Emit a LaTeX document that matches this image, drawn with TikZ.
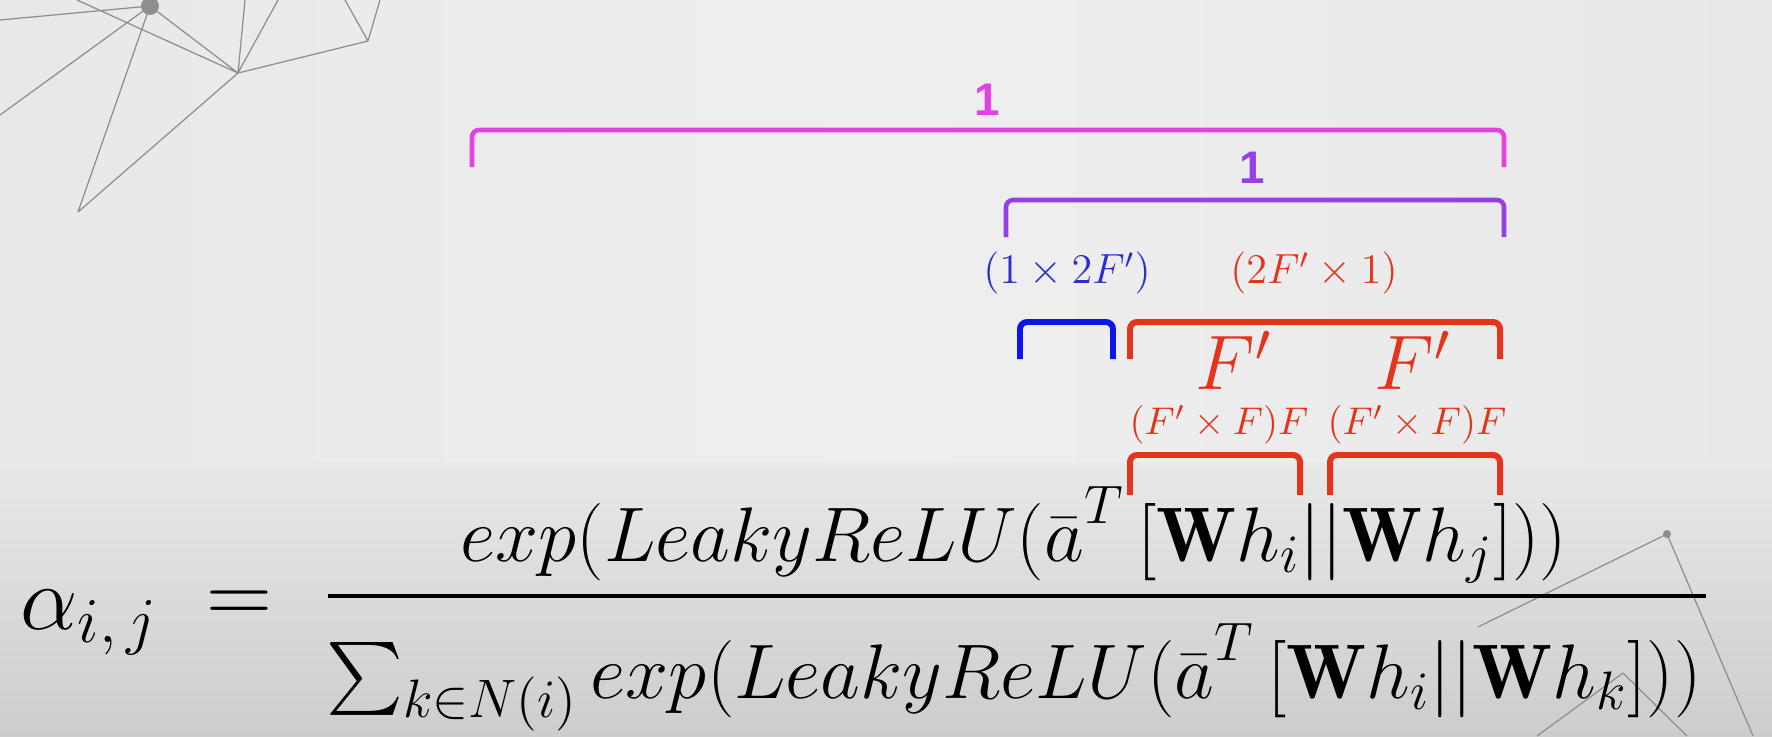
\RequirePackage{fix-cm}
\documentclass[tikz,border=0pt]{standalone}
\usepackage{amsmath}
\usepackage{fontspec}
\setsansfont{Liberation Sans}
\usetikzlibrary{positioning}

\definecolor{fondo}{HTML}{E8E8E8}
\definecolor{fondoclaro}{HTML}{EFEFEF}
\definecolor{fondoosc}{HTML}{CDCDCD}
\definecolor{grismalla}{HTML}{8E8E8E}
\definecolor{magenta1}{RGB}{226,66,226}
\definecolor{morado1}{RGB}{150,62,232}
\definecolor{azul1}{RGB}{12,22,235}
\definecolor{azultxt}{RGB}{45,45,205}
\definecolor{rojo1}{RGB}{228,52,30}

% vector a transpuesto
\newcommand{\vecaT}{\bar{a}^{\raisebox{2.8pt}{$\scriptstyle T$}}}

\begin{document}
\begin{tikzpicture}[x=0.01cm, y=-0.01cm,
                  malla/.style={draw=grismalla, line width=0.35pt},
                  llave/.style={line width=1.3pt, rounded corners=2pt},
                  llavegruesa/.style={line width=1.7pt, rounded corners=2pt},
                  lado/.style={inner sep=0pt, font=\fontsize{26}{30}\selectfont},
                  ecuacion/.style={inner sep=0pt, font=\fontsize{22}{26}\selectfont},
                  uno/.style={inner sep=0pt, font=\fontsize{13}{15}\selectfont\sffamily\bfseries},
                  dim/.style={inner sep=0pt, font=\fontsize{12}{14}\selectfont},
                  dimchica/.style={inner sep=0pt, font=\fontsize{11}{13}\selectfont}]

                  % Fondo de la diapositiva.
                  \useasboundingbox (0,0) rectangle (1772,736);
                  \shade[left color=fondo, right color=fondo, middle color=fondoclaro]
                  (0,0) rectangle (1772,736);
                  \shade[top color=fondo, bottom color=fondoosc] (0,463) rectangle (1772,736);

                  % Malla decorativa de la esquina superior.
                  \coordinate (d) at (150,6);
                  \coordinate (p1) at (238,73);
                  \coordinate (p2) at (78,212);
                  \coordinate (p3) at (368,41);
                  \draw[malla] (0,20) -- (d) (0,115) -- (d) (d) -- (p2) (d) -- (p1)
                  (77,0) -- (p1) (p2) -- (p1) (p1) -- (245,0) (p1) -- (278,0)
                  (p1) -- (p3) (p3) -- (345,0) (p3) -- (380,0);
                  \fill[grismalla] (d) circle (9);

                  % Malla decorativa de la esquina inferior.
                  \coordinate (q) at (1667,534);
                  \coordinate (r) at (1623,673);
                  \draw[malla] (q) -- (1478,627) (q) -- (1753,736)
                  (r) -- (1537,736) (r) -- (1687,736);
                  \fill[grismalla] (q) circle (4);

                  % La ecuacion de atencion.
                  \node[lado, anchor=base west] (alfa) at (20,629) {$\alpha_{i,\,j}$};
                  \node[lado, anchor=base west] (igual) at (206,623) {$=$};
                  \node[ecuacion, anchor=base] (num) at (1014,561)
                  {$exp(LeakyReLU(\vecaT\,[\mathbf{W}h_i||\mathbf{W}h_j]))$};
                  \node[ecuacion, anchor=base] (den) at (1014,698)
                  {$\sum_{k\in N(i)} exp(LeakyReLU(\vecaT\,[\mathbf{W}h_i||\mathbf{W}h_k]))$};
                  \coordinate (barraI) at (328,596);
                  \coordinate (barraD) at (1706,596);
                  \draw[line width=1.3pt] (barraI) -- (barraD);

                  % Llaves de dimensiones.
                  \draw[llave, magenta1] (472,167) -- (472,130) -- (1504,130) -- (1504,167);
                  \node[uno, text=magenta1] (unoA) at (987,100) {1};
                  \draw[llave, morado1] (1006,237) -- (1006,200) -- (1504,200) -- (1504,237);
                  \node[uno, text=morado1] (unoB) at (1252,168) {1};

                  \node[dim, text=azultxt] (dimA) at (1067,273) {$(1\times 2F')$};
                  \node[dim, text=rojo1] (dimB) at (1314,273) {$(2F'\times 1)$};

                  \draw[llavegruesa, azul1] (1020,359) -- (1020,322) -- (1113,322) -- (1113,359);
                  \draw[llavegruesa, rojo1] (1130,359) -- (1130,322) -- (1500,322) -- (1500,359);
                  \node[ecuacion, text=rojo1] (fA) at (1234,360) {$F'$};
                  \node[ecuacion, text=rojo1] (fB) at (1413,360) {$F'$};

                  \node[dimchica, text=rojo1] (wA) at (1219,425) {$(F'\times F)F$};
                  \node[dimchica, text=rojo1] (wB) at (1417,425) {$(F'\times F)F$};
                  \draw[llavegruesa, rojo1] (1130,495) -- (1130,455) -- (1300,455) -- (1300,495);
                  \draw[llavegruesa, rojo1] (1330,495) -- (1330,455) -- (1500,455) -- (1500,495);

\end{tikzpicture}
\end{document}
